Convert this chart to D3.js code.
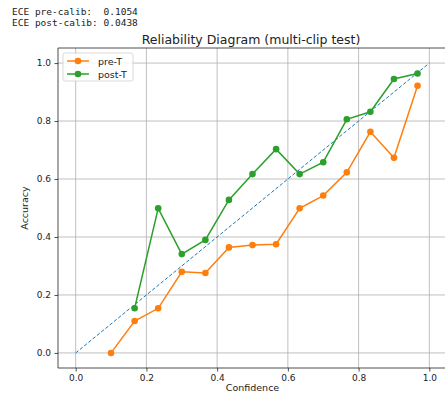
<!DOCTYPE html>
<html lang="en">
<head>
  <meta charset="UTF-8">
  <title>Reliability Diagram</title>
  <script src="https://d3js.org/d3.v7.min.js"></script>
  <style>
    body { margin: 0; background: #fff; }
    text { font-family: "DejaVu Sans", sans-serif; fill: #222; }
    .ece { font-family: "DejaVu Sans Mono", monospace; font-size: 9.5px; }
    .grid line { stroke: #b0b0b0; stroke-width: 0.8px; }
    .axis text { font-size: 9px; }
    .axis path, .axis line { stroke: #222; stroke-width: 0.8px; }
  </style>
</head>
<body>
  <svg></svg>
  <script>
    const width = 445;
    const height = 394;

    // bin centres (confidence) and per-bin accuracy
    const binCenters = [0.1, 0.1667, 0.2333, 0.3, 0.3667, 0.4333, 0.5, 0.5667, 0.6333, 0.7, 0.7667, 0.8333, 0.9, 0.9667];
    const preT  = [0.0, 0.11, 0.154, 0.28, 0.276, 0.364, 0.372, 0.375, 0.499, 0.543, 0.623, 0.763, 0.673, 0.922];
    const postX = [0.1667, 0.2333, 0.3, 0.3667, 0.4333, 0.5, 0.5667, 0.6333, 0.7, 0.7667, 0.8333, 0.9, 0.9667];
    const postT = [0.154, 0.499, 0.341, 0.39, 0.528, 0.617, 0.703, 0.617, 0.658, 0.806, 0.832, 0.945, 0.964];
    const ticks = [0.0, 0.2, 0.4, 0.6, 0.8, 1.0];
    const eceLines = ["ECE pre-calib:  0.1054", "ECE post-calib: 0.0438"];

    const svg = d3.select("svg")
        .attr("width", width)
        .attr("height", height);

    const x = d3.scaleLinear().domain([-0.05, 1.05]).range([58, 447]);
    const y = d3.scaleLinear().domain([-0.052, 1.052]).range([368, 48]);

    // text printed above the chart
    svg.selectAll("text.ece")
        .data(eceLines)
        .enter().append("text")
        .attr("class", "ece")
        .attr("x", 12)
        .attr("y", (d, i) => 15 + i * 11)
        .attr("xml:space", "preserve")
        .style("white-space", "pre")
        .text(d => d);

    // grid
    const grid = svg.append("g").attr("class", "grid");
    grid.selectAll("line.v").data(ticks).enter().append("line")
        .attr("x1", d => x(d)).attr("x2", d => x(d))
        .attr("y1", y.range()[0]).attr("y2", y.range()[1]);
    grid.selectAll("line.h").data(ticks).enter().append("line")
        .attr("y1", d => y(d)).attr("y2", d => y(d))
        .attr("x1", x.range()[0]).attr("x2", x.range()[1]);

    // perfect calibration diagonal
    svg.append("line")
        .attr("x1", x(0)).attr("y1", y(0))
        .attr("x2", x(1)).attr("y2", y(1))
        .attr("stroke", "#1f77b4")
        .attr("stroke-width", 1)
        .attr("stroke-dasharray", "3.5,2");

    const line = d3.line().x(d => x(d[0])).y(d => y(d[1]));

    const series = [
      { name: "pre-T", color: "#ff7f0e", pts: binCenters.map((c, i) => [c, preT[i]]) },
      { name: "post-T", color: "#2ca02c", pts: postX.map((c, i) => [c, postT[i]]) }
    ];

    series.forEach(s => {
      svg.append("path")
          .attr("d", line(s.pts))
          .attr("fill", "none")
          .attr("stroke", s.color)
          .attr("stroke-width", 1.5);
      svg.selectAll(null)
          .data(s.pts)
          .enter().append("circle")
          .attr("cx", d => x(d[0]))
          .attr("cy", d => y(d[1]))
          .attr("r", 3.3)
          .attr("fill", s.color);
    });

    // axes
    const fmt = d3.format(".1f");
    svg.append("g")
        .attr("class", "axis")
        .attr("transform", `translate(0,${y.range()[0]})`)
        .call(d3.axisBottom(x).tickValues(ticks).tickFormat(fmt).tickSize(3.5).tickPadding(3.5))
        .call(g => g.select(".domain").attr("d", `M${x.range()[0]},0H${x.range()[1]}`));
    svg.append("g")
        .attr("class", "axis")
        .attr("transform", `translate(${x.range()[0]},0)`)
        .call(d3.axisLeft(y).tickValues(ticks).tickFormat(fmt).tickSize(3.5).tickPadding(3.5))
        .call(g => g.select(".domain").attr("d", `M0,${y.range()[0]}V${y.range()[1]}`));

    // top spine
    svg.append("line")
        .attr("x1", x.range()[0]).attr("x2", x.range()[1])
        .attr("y1", y.range()[1]).attr("y2", y.range()[1])
        .attr("stroke", "#222").attr("stroke-width", 0.8);

    // title and labels
    svg.append("text")
        .attr("x", 251)
        .attr("y", 44)
        .attr("text-anchor", "middle")
        .style("font-size", "12.5px")
        .text("Reliability Diagram (multi-clip test)");
    svg.append("text")
        .attr("x", x(0.5))
        .attr("y", 391)
        .attr("text-anchor", "middle")
        .style("font-size", "9.5px")
        .text("Confidence");
    svg.append("text")
        .attr("transform", `translate(28,${y(0.5)}) rotate(-90)`)
        .attr("text-anchor", "middle")
        .style("font-size", "9.5px")
        .text("Accuracy");

    // legend
    const legend = svg.append("g").attr("transform", "translate(63,53)");
    legend.append("rect")
        .attr("width", 70).attr("height", 28).attr("rx", 2)
        .attr("fill", "#fff").attr("fill-opacity", 0.8)
        .attr("stroke", "#d0d0d0").attr("stroke-width", 0.8);
    series.forEach((s, i) => {
      const row = legend.append("g").attr("transform", `translate(0,${8 + i * 13})`);
      row.append("line").attr("x1", 4).attr("x2", 26)
          .attr("stroke", s.color).attr("stroke-width", 1.5);
      row.append("circle").attr("cx", 15).attr("r", 3.3).attr("fill", s.color);
      row.append("text").attr("x", 35).attr("y", 3.5)
          .style("font-size", "9.5px").text(s.name);
    });
  </script>
</body>
</html>
